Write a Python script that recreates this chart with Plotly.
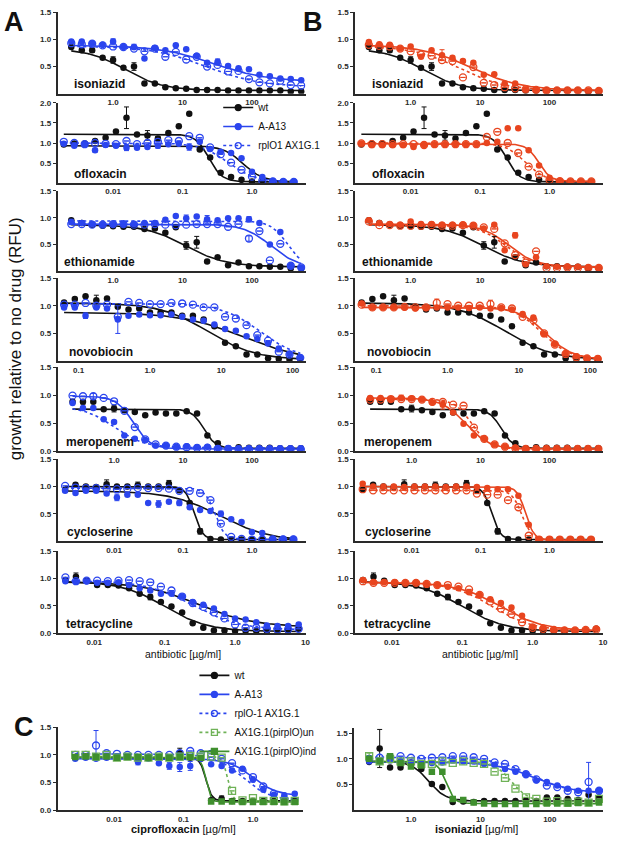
import numpy as np
import plotly.graph_objects as go

# doses in ug/ml (sqrt(2) dilution steps)
dose_high = [0.25, 0.354, 0.5, 0.707, 1, 1.41, 2, 2.83, 4, 5.66, 8, 11.3, 16, 22.6,
             32, 45.3, 64, 90.5, 128, 181, 256, 362, 512]
dose_low = [0.00195, 0.00276, 0.0039, 0.0055, 0.0078, 0.011, 0.0156, 0.0221, 0.03125,
            0.0442, 0.0625, 0.0884, 0.125, 0.177, 0.25, 0.354, 0.5, 0.707, 1, 1.41, 2, 2.83, 4]
dose_nov = [0.0625, 0.0884, 0.125, 0.177, 0.25, 0.354, 0.5, 0.707, 1, 1.41, 2, 2.83, 4,
            5.66, 8, 11.3, 16, 22.6, 32, 45.3, 64, 90.5, 128]
dose_tet = [0.0039, 0.0055, 0.0078, 0.011, 0.0156, 0.0221, 0.03125, 0.0442, 0.0625, 0.0884,
            0.125, 0.177, 0.25, 0.354, 0.5, 0.707, 1, 1.41, 2, 2.83, 4, 5.66, 8]
dose_cip = [0.00276, 0.0039, 0.0055, 0.0078, 0.011, 0.0156, 0.0221, 0.03125, 0.0442, 0.0625,
            0.0884, 0.125, 0.177, 0.25, 0.354, 0.5, 0.707, 1, 1.41, 2, 2.83, 4]

drugs = ["isoniazid", "ofloxacin", "ethionamide", "novobiocin", "meropenem", "cycloserine", "tetracycline"]
drug_doses = [dose_high, dose_low, dose_high, dose_nov, dose_high, dose_low, dose_tet]

# growth relative to no drug, panels A and B (wt is shared)
wt = {
    "isoniazid": [0.86, 0.80, 0.80, 0.66, 0.62, 0.48, 0.50, 0.19, 0.19, 0.12, 0.10, 0.09, 0.07, 0.07, 0.07, 0.06, 0.06, 0.06, 0.06, 0.06, 0.06, 0.04, 0.04],
    "ofloxacin": [0.96, 0.99, 0.99, 1.05, 1.13, 1.29, 1.63, 1.21, 1.19, 1.11, 1.25, 1.42, 1.73, 0.84, 0.64, 0.26, 0.15, 0.08, 0.04, 0.03, 0.03, 0.03, 0.03],
    "ethionamide": [0.95, 0.90, 0.87, 0.85, 0.84, 0.83, 0.83, 0.79, 0.80, 0.72, 0.82, 0.48, 0.54, 0.18, 0.26, 0.11, 0.16, 0.09, 0.09, 0.08, 0.08, 0.05, 0.05],
    "novobiocin": [1.06, 1.12, 1.17, 1.10, 1.13, 0.98, 0.93, 0.95, 0.88, 0.88, 0.88, 0.82, 0.82, 0.75, 0.63, 0.33, 0.27, 0.12, 0.12, 0.05, 0.04, 0.03, 0.04],
    "meropenem": [0.88, 0.88, 0.88, 0.75, 0.76, 0.73, 0.70, 0.64, 0.69, 0.67, 0.67, 0.71, 0.67, 0.28, 0.14, 0.05, 0.07, 0.06, 0.06, 0.06, 0.05, 0.05, 0.05],
    "cycloserine": [0.94, 1.03, 1.00, 0.99, 1.04, 1.00, 1.00, 1.02, 1.00, 1.00, 1.05, 0.93, 0.70, 0.18, 0.04, 0.03, 0.03, 0.03, 0.03, 0.03, 0.03, 0.03, 0.03],
    "tetracycline": [0.97, 1.03, 0.96, 0.88, 0.88, 0.87, 0.82, 0.72, 0.66, 0.57, 0.49, 0.38, 0.18, 0.10, 0.05, 0.05, 0.04, 0.04, 0.04, 0.04, 0.04, 0.05, 0.08],
}
a13 = {
    "isoniazid": [0.96, 0.96, 0.93, 0.90, 0.96, 0.86, 0.86, 0.65, 0.84, 0.80, 0.89, 0.82, 0.70, 0.57, 0.59, 0.51, 0.47, 0.45, 0.35, 0.32, 0.28, 0.27, 0.25],
    "ofloxacin": [0.98, 0.93, 0.97, 0.82, 0.95, 0.93, 0.88, 0.88, 0.90, 0.93, 0.97, 0.98, 0.90, 1.03, 0.85, 0.78, 0.75, 0.62, 0.28, 0.15, 0.05, 0.03, 0.03],
    "ethionamide": [0.92, 0.90, 0.88, 0.87, 0.88, 0.88, 0.88, 0.90, 0.90, 0.96, 1.03, 0.99, 1.02, 0.97, 0.95, 0.99, 0.99, 0.97, 0.90, 0.50, 0.73, 0.10, 0.07],
    "novobiocin": [0.97, 0.97, 0.82, 0.97, 0.95, 0.75, 0.82, 0.84, 0.83, 0.83, 0.84, 0.80, 0.75, 0.73, 0.66, 0.58, 0.55, 0.45, 0.40, 0.32, 0.23, 0.13, 0.07],
    "meropenem": [0.86, 0.77, 0.77, 0.57, 0.52, 0.28, 0.22, 0.20, 0.10, 0.10, 0.08, 0.09, 0.07, 0.08, 0.05, 0.05, 0.05, 0.05, 0.05, 0.05, 0.05, 0.05, 0.05],
    "cycloserine": [0.92, 0.88, 0.92, 0.92, 0.87, 0.80, 0.85, 0.85, 0.70, 0.68, 0.72, 0.70, 0.62, 0.57, 0.55, 0.50, 0.40, 0.35, 0.17, 0.15, 0.05, 0.05, 0.05],
    "tetracycline": [0.95, 0.94, 0.95, 0.92, 0.92, 0.93, 0.88, 0.82, 0.78, 0.72, 0.72, 0.67, 0.57, 0.52, 0.45, 0.35, 0.27, 0.25, 0.20, 0.14, 0.13, 0.13, 0.16],
}
ax1g = {
    "isoniazid": [0.93, 0.91, 0.92, 0.89, 0.87, 0.86, 0.83, 0.78, 0.83, 0.68, 0.77, 0.63, 0.68, 0.50, 0.53, 0.41, 0.42, 0.27, 0.21, 0.19, 0.24, 0.16, 0.15],
    "ofloxacin": [1.03, 1.00, 0.97, 1.00, 0.98, 0.97, 1.05, 0.97, 1.00, 1.03, 1.07, 1.05, 1.17, 1.13, 0.89, 0.72, 0.51, 0.33, 0.16, 0.06, 0.04, 0.03, 0.03],
    "ethionamide": [0.88, 0.88, 0.87, 0.87, 0.88, 0.88, 0.87, 0.87, 0.88, 0.87, 0.86, 0.87, 0.88, 0.88, 0.88, 0.83, 0.88, 0.61, 0.75, 0.20, 0.51, 0.10, 0.07],
    "novobiocin": [1.02, 1.02, 1.05, 1.00, 1.02, 0.80, 1.07, 1.05, 1.03, 1.03, 1.05, 1.04, 1.02, 0.97, 0.97, 0.80, 0.77, 0.65, 0.47, 0.37, 0.17, 0.12, 0.06],
    "meropenem": [0.99, 0.98, 0.98, 0.95, 0.89, 0.72, 0.43, 0.21, 0.12, 0.10, 0.08, 0.07, 0.06, 0.06, 0.04, 0.04, 0.03, 0.03, 0.03, 0.03, 0.03, 0.03, 0.03],
    "cycloserine": [1.01, 0.98, 0.97, 0.97, 0.96, 0.95, 0.96, 0.97, 0.97, 0.97, 0.96, 0.92, 0.92, 0.88, 0.75, 0.32, 0.08, 0.04, 0.03, 0.03, 0.03, 0.03, 0.03],
    "tetracycline": [1.02, 0.95, 0.96, 0.96, 0.95, 0.96, 0.97, 0.95, 0.93, 0.85, 0.78, 0.67, 0.55, 0.48, 0.38, 0.27, 0.16, 0.10, 0.10, 0.08, 0.07, 0.07, 0.08],
}
b_fill = {
    "isoniazid": [0.95, 0.91, 0.90, 0.83, 0.87, 0.68, 0.80, 0.71, 0.66, 0.60, 0.57, 0.35, 0.36, 0.19, 0.19, 0.08, 0.07, 0.06, 0.06, 0.06, 0.06, 0.06, 0.05],
    "ofloxacin": [0.99, 0.95, 0.95, 0.95, 0.95, 0.90, 0.95, 0.97, 0.97, 0.97, 0.97, 0.97, 1.00, 1.03, 1.37, 1.37, 0.82, 0.44, 0.13, 0.05, 0.04, 0.04, 0.04],
    "ethionamide": [0.95, 0.90, 0.88, 0.87, 0.93, 0.88, 0.88, 0.87, 0.87, 0.87, 0.86, 0.80, 0.87, 0.39, 0.67, 0.13, 0.26, 0.09, 0.08, 0.08, 0.08, 0.07, 0.06],
    "novobiocin": [1.04, 0.97, 0.97, 0.97, 0.97, 0.95, 0.96, 0.97, 0.97, 0.97, 0.96, 0.97, 0.95, 0.96, 0.93, 0.85, 0.79, 0.49, 0.31, 0.14, 0.09, 0.05, 0.05],
    "meropenem": [0.95, 0.95, 0.93, 0.95, 0.94, 0.92, 0.87, 0.83, 0.69, 0.49, 0.28, 0.22, 0.12, 0.08, 0.06, 0.04, 0.04, 0.04, 0.04, 0.04, 0.04, 0.04, 0.04],
    "cycloserine": [1.05, 1.00, 1.00, 1.00, 0.99, 1.00, 1.00, 1.00, 0.99, 1.00, 1.00, 0.99, 0.97, 0.95, 0.95, 0.83, 0.30, 0.03, 0.03, 0.03, 0.03, 0.03, 0.03],
    "tetracycline": [0.97, 0.93, 0.93, 0.93, 0.92, 0.92, 0.90, 0.88, 0.85, 0.82, 0.75, 0.70, 0.62, 0.55, 0.47, 0.32, 0.12, 0.10, 0.06, 0.06, 0.05, 0.06, 0.08],
}
b_open = {
    "isoniazid": [0.90, 0.88, 0.87, 0.83, 0.78, 0.72, 0.70, 0.62, 0.60, 0.30, 0.49, 0.20, 0.16, 0.12, 0.10, 0.08, 0.07, 0.06, 0.06, 0.06, 0.06, 0.06, 0.05],
    "ofloxacin": [0.99, 0.97, 0.97, 0.97, 0.97, 0.97, 0.95, 0.97, 0.97, 0.97, 0.97, 0.97, 1.15, 1.28, 1.00, 0.75, 0.41, 0.21, 0.08, 0.05, 0.04, 0.04, 0.04],
    "ethionamide": [0.93, 0.86, 0.86, 0.85, 0.85, 0.85, 0.86, 0.85, 0.85, 0.86, 0.85, 0.82, 0.79, 0.52, 0.30, 0.16, 0.37, 0.06, 0.06, 0.07, 0.06, 0.06, 0.06],
    "novobiocin": [1.02, 0.97, 0.97, 0.97, 0.98, 0.97, 0.97, 1.05, 1.03, 1.00, 1.00, 1.00, 1.03, 0.97, 0.95, 0.80, 0.74, 0.50, 0.30, 0.13, 0.07, 0.05, 0.04],
    "meropenem": [0.92, 0.92, 0.93, 0.93, 0.93, 0.92, 0.88, 0.88, 0.83, 0.81, 0.42, 0.22, 0.12, 0.08, 0.05, 0.04, 0.04, 0.04, 0.04, 0.04, 0.04, 0.04, 0.04],
    "cycloserine": [0.95, 0.93, 0.93, 0.93, 0.93, 0.93, 0.93, 0.93, 0.93, 0.93, 0.93, 0.87, 0.85, 0.85, 0.75, 0.62, 0.10, 0.03, 0.03, 0.03, 0.03, 0.03, 0.03],
    "tetracycline": [0.95, 0.92, 0.92, 0.92, 0.92, 0.92, 0.90, 0.88, 0.88, 0.85, 0.80, 0.70, 0.58, 0.45, 0.35, 0.20, 0.10, 0.08, 0.06, 0.05, 0.05, 0.06, 0.07],
}

# panel C
cip_wt = [0.96, 0.97, 0.97, 0.96, 0.96, 0.97, 0.95, 0.96, 0.96, 0.95, 1.04, 0.95, 0.93, 0.18, 0.21, 0.17, 0.17, 0.17, 0.17, 0.17, 0.17, 0.17]
cip_a13 = [0.93, 0.95, 0.93, 0.95, 0.97, 0.97, 0.87, 0.93, 0.85, 0.80, 0.78, 0.80, 0.93, 0.83, 0.80, 0.72, 0.75, 0.55, 0.37, 0.28, 0.27, 0.30]
cip_ax1g = [1.00, 1.00, 1.17, 1.03, 1.02, 1.00, 1.00, 1.00, 1.00, 1.00, 1.03, 1.07, 1.03, 1.02, 0.93, 0.85, 0.72, 0.60, 0.43, 0.30, 0.20, 0.18]
cip_un = [1.00, 1.00, 0.97, 1.00, 0.95, 0.97, 0.95, 0.95, 0.97, 0.95, 0.97, 0.98, 0.97, 0.97, 0.95, 0.35, 0.18, 0.22, 0.17, 0.17, 0.16, 0.17]
cip_ind = [0.96, 0.97, 0.96, 0.97, 0.95, 0.96, 0.96, 0.95, 0.96, 0.95, 0.96, 0.96, 0.95, 0.16, 0.16, 0.16, 0.15, 0.15, 0.15, 0.15, 0.15, 0.15]
inh_wt = [0.94, 1.20, 0.83, 0.83, 0.93, 0.80, 0.51, 0.45, 0.16, 0.17, 0.16, 0.18, 0.18, 0.18, 0.18, 0.19, 0.18, 0.25, 0.25, 0.22, 0.20, 0.30, 0.25]
inh_a13 = [0.95, 0.95, 0.97, 0.95, 0.93, 0.90, 0.92, 0.93, 0.97, 0.95, 0.95, 0.90, 0.88, 0.80, 0.75, 0.70, 0.58, 0.55, 0.48, 0.42, 0.38, 0.38, 0.38]
inh_ax1g = [1.00, 1.02, 1.03, 1.05, 1.02, 1.00, 1.02, 1.03, 1.05, 1.05, 1.03, 1.00, 0.93, 0.90, 0.80, 0.70, 0.60, 0.48, 0.45, 0.38, 0.35, 0.55, 0.38]
inh_un = [1.05, 0.95, 1.00, 0.95, 0.95, 0.90, 0.90, 0.95, 0.92, 0.95, 0.92, 0.90, 0.75, 0.63, 0.42, 0.25, 0.22, 0.17, 0.18, 0.15, 0.17, 0.15, 0.22]
inh_ind = [1.00, 0.95, 1.05, 0.92, 0.85, 0.87, 0.75, 0.75, 0.22, 0.20, 0.15, 0.13, 0.12, 0.12, 0.12, 0.12, 0.12, 0.13, 0.13, 0.13, 0.14, 0.14, 0.15]

# fitted dose-response curves: (top, bottom, EC50, Hill slope)
fit = {
    ("isoniazid", "wt"): (0.83, 0.06, 1.5, 1.6), ("isoniazid", "a13"): (0.89, 0.22, 28, 1.1),
    ("isoniazid", "ax1g"): (0.88, 0.12, 22, 1.1), ("isoniazid", "b_fill"): (0.90, 0.06, 7.5, 1.2),
    ("isoniazid", "b_open"): (0.88, 0.06, 5, 1.3),
    ("ofloxacin", "wt"): (1.22, 0.03, 0.24, 4.5), ("ofloxacin", "a13"): (0.93, 0.03, 0.75, 3),
    ("ofloxacin", "ax1g"): (1.0, 0.03, 0.45, 2.2), ("ofloxacin", "b_fill"): (0.98, 0.04, 0.7, 5),
    ("ofloxacin", "b_open"): (1.0, 0.04, 0.45, 3),
    ("ethionamide", "wt"): (0.87, 0.08, 11, 1.5), ("ethionamide", "a13"): (0.94, 0.05, 330, 3.5),
    ("ethionamide", "ax1g"): (0.88, 0.06, 190, 2.2), ("ethionamide", "b_fill"): (0.88, 0.08, 26, 2.2),
    ("ethionamide", "b_open"): (0.86, 0.07, 24, 2.2),
    ("novobiocin", "wt"): (1.05, 0.02, 6.5, 1.3), ("novobiocin", "a13"): (0.88, 0.0, 20, 1.0),
    ("novobiocin", "ax1g"): (1.04, 0.03, 35, 1.6), ("novobiocin", "b_fill"): (0.97, 0.03, 24, 2.3),
    ("novobiocin", "b_open"): (1.0, 0.03, 21, 2.2),
    ("meropenem", "wt"): (0.75, 0.05, 20, 5), ("meropenem", "a13"): (0.80, 0.06, 1.0, 2),
    ("meropenem", "ax1g"): (0.98, 0.04, 1.9, 3.5), ("meropenem", "b_fill"): (0.95, 0.04, 6, 2.5),
    ("meropenem", "b_open"): (0.93, 0.04, 7.5, 3.5),
    ("cycloserine", "wt"): (1.0, 0.03, 0.145, 7), ("cycloserine", "a13"): (0.92, 0.0, 0.35, 1.2),
    ("cycloserine", "ax1g"): (0.97, 0.03, 0.29, 6), ("cycloserine", "b_fill"): (1.0, 0.02, 0.45, 7),
    ("cycloserine", "b_open"): (0.93, 0.02, 0.40, 6),
    ("tetracycline", "wt"): (0.95, 0.03, 0.1, 1.4), ("tetracycline", "a13"): (0.94, 0.11, 0.3, 1.1),
    ("tetracycline", "ax1g"): (0.96, 0.06, 0.25, 1.3), ("tetracycline", "b_fill"): (0.93, 0.04, 0.35, 1.4),
    ("tetracycline", "b_open"): (0.93, 0.04, 0.27, 1.5),
    ("cipro", "wt"): (0.95, 0.17, 0.21, 10), ("cipro", "a13"): (0.93, 0.26, 1.0, 2.5),
    ("cipro", "ax1g"): (1.02, 0.18, 0.7, 2.2), ("cipro", "un"): (0.97, 0.17, 0.43, 12),
    ("cipro", "ind"): (0.96, 0.15, 0.21, 12),
    ("inh", "wt"): (0.95, 0.18, 1.8, 3.5), ("inh", "a13"): (0.94, 0.33, 60, 1.5),
    ("inh", "ax1g"): (1.03, 0.33, 55, 1.6), ("inh", "un"): (0.95, 0.17, 28, 3.5),
    ("inh", "ind"): (0.95, 0.13, 3.2, 7),
}

# error bars (SD) on the points that show one: {point index: size}
error_bars = {
    ("isoniazid", "wt"): {2: 0.04, 4: 0.06, 6: 0.07}, ("isoniazid", "a13"): {4: 0.05, 6: 0.05, 8: 0.04, 14: 0.05},
    ("isoniazid", "b_fill"): {7: 0.10},
    ("ofloxacin", "wt"): {6: 0.27, 8: 0.12, 9: 0.05}, ("ofloxacin", "a13"): {3: 0.05, 6: 0.07, 9: 0.06, 12: 0.08},
    ("ethionamide", "wt"): {11: 0.07, 12: 0.11}, ("ethionamide", "a13"): {0: 0.05, 3: 0.04, 11: 0.06, 13: 0.07, 17: 0.05},
    ("ethionamide", "ax1g"): {17: 0.05}, ("ethionamide", "b_fill"): {14: 0.05},
    ("novobiocin", "wt"): {3: 0.09}, ("novobiocin", "a13"): {2: 0.05, 5: 0.25}, ("novobiocin", "b_open"): {7: 0.07, 12: 0.07},
    ("meropenem", "wt"): {1: 0.04, 4: 0.06}, ("meropenem", "ax1g"): {2: 0.05}, ("meropenem", "b_fill"): {3: 0.05, 7: 0.08},
    ("cycloserine", "wt"): {4: 0.08, 7: 0.06, 10: 0.06, 13: 0.05}, ("cycloserine", "a13"): {5: 0.06, 9: 0.06, 11: 0.05, 15: 0.05},
    ("tetracycline", "wt"): {1: 0.07, 8: 0.05}, ("tetracycline", "ax1g"): {12: 0.05},
    ("cipro", "wt"): {10: 0.08, 14: 0.05}, ("cipro", "ax1g"): {2: 0.27}, ("cipro", "a13"): {6: 0.05, 9: 0.06, 10: 0.08, 11: 0.08},
    ("inh", "wt"): {1: 0.37}, ("inh", "ax1g"): {21: 0.38}, ("inh", "un"): {0: 0.06, 2: 0.08},
}

BLACK = "#111111"
BLUE = "#2b45ee"
RED = "#e8451f"
GREEN = "#3f8f2e"
LGREEN = "#6fb257"
AXC = "#2a2a2a"
FONT = "Liberation Sans, Arial, sans-serif"
W, H = 617, 843


def px(x):
    return x / W


def py(y):
    return 1 - y / H


def hill(x, top, bottom, ec50, slope):
    return bottom + (top - bottom) / (1 + (x / ec50) ** slope)


fig = go.Figure()
curve_traces, point_traces = [], []


def add_series(n, key, strain, dose, y, color, symbol, dash, curve_color):
    sfx = "" if n == 1 else str(n)
    xs = np.logspace(np.log10(dose[0]), np.log10(dose[-1]), 200)
    curve_traces.append(go.Scatter(
        x=xs, y=hill(xs, *fit[(key, strain)]), mode="lines", xaxis="x" + sfx, yaxis="y" + sfx,
        line=dict(color=curve_color, width=1.6, dash=dash), showlegend=False, hoverinfo="skip"))
    errs = error_bars.get((key, strain), {})
    open_sym = symbol.endswith("open")
    point_traces.append(go.Scatter(
        x=dose, y=y, mode="markers", xaxis="x" + sfx, yaxis="y" + sfx, showlegend=False,
        marker=dict(symbol=symbol, size=7 if open_sym else 6.5, color=color,
                    line=dict(width=1.3 if open_sym else 0, color=color)),
        error_y=dict(type="data", array=[errs.get(i) for i in range(len(y))], visible=True,
                     color=color, thickness=1, width=2.5)))


# which A-A13 / rplO1 fit uses solid vs dotted line, and curve colour of A-A13
a13_dash = ["solid", "solid", "dot", "solid", "dot", "solid", "solid"]
a13_curve = [BLUE, BLACK, BLUE, BLACK, BLUE, BLACK, BLACK]

for i, drug in enumerate(drugs):
    d = drug_doses[i]
    na, nb = 2 * i + 1, 2 * i + 2
    other = "dot" if a13_dash[i] == "solid" else "solid"
    add_series(na, drug, "wt", d, wt[drug], BLACK, "circle", "solid", BLACK)
    add_series(na, drug, "a13", d, a13[drug], BLUE, "circle", a13_dash[i], a13_curve[i])
    add_series(na, drug, "ax1g", d, ax1g[drug], BLUE, "circle-open", other, BLUE)
    add_series(nb, drug, "wt", d, wt[drug], BLACK, "circle", "solid", BLACK)
    add_series(nb, drug, "b_fill", d, b_fill[drug], RED, "circle", "solid", RED)
    add_series(nb, drug, "b_open", d, b_open[drug], RED, "circle-open", "dot", RED)

add_series(15, "cipro", "wt", dose_cip, cip_wt, BLACK, "circle", "solid", BLACK)
add_series(15, "cipro", "a13", dose_cip, cip_a13, BLUE, "circle", "solid", BLUE)
add_series(15, "cipro", "ax1g", dose_cip, cip_ax1g, BLUE, "circle-open", "dot", BLUE)
add_series(15, "cipro", "un", dose_cip, cip_un, LGREEN, "square-open", "dot", LGREEN)
add_series(15, "cipro", "ind", dose_cip, cip_ind, GREEN, "square", "solid", GREEN)
add_series(16, "inh", "wt", dose_high, inh_wt, BLACK, "circle", "solid", BLACK)
add_series(16, "inh", "a13", dose_high, inh_a13, BLUE, "circle", "solid", BLUE)
add_series(16, "inh", "ax1g", dose_high, inh_ax1g, BLUE, "circle-open", "dot", BLUE)
add_series(16, "inh", "un", dose_high, inh_un, LGREEN, "square-open", "dot", LGREEN)
add_series(16, "inh", "ind", dose_high, inh_ind, GREEN, "square", "solid", GREEN)

for t in curve_traces + point_traces:
    fig.add_trace(t)

# legend entries
legend_a = [("wt", BLACK, "circle", "solid"), ("A-A13", BLUE, "circle", "solid"),
            ("rplO1 AX1G.1", BLUE, "circle-open", "dot")]
legend_c = [("wt", BLACK, "circle", "solid"), ("A-A13", BLUE, "circle", "solid"),
            ("rplO-1 AX1G.1", BLUE, "circle-open", "dot"),
            ("AX1G.1(pirplO)un", LGREEN, "square-open", "dot"),
            ("AX1G.1(pirplO)ind", GREEN, "square", "solid")]
for lg, entries in (("legend", legend_a), ("legend2", legend_c)):
    for name, color, sym, dash in entries:
        fig.add_trace(go.Scatter(
            x=[None], y=[None], mode="lines+markers", name=name, legend=lg,
            marker=dict(symbol=sym, size=6, color=color, line=dict(width=1.3, color=color)),
            line=dict(color=color, width=1.6, dash=dash)))

# axes
row_top = [8.3, 100, 189, 277, 367, 460, 553]
row_bot = [90.7, 181, 270, 361, 452, 543, 636]
row_xrange = [(-0.8, 2.771), (-2.8, 0.771), (-0.8, 2.771), (-1.296, 2.181),
              (-0.82, 2.777), (-2.82, 0.777), (-2.521, 1.0)]
row_xticks = [[1, 10, 100], [0.01, 0.1, 1], [1, 10, 100], [0.1, 1, 10, 100],
              [1, 10, 100], [0.01, 0.1, 1], [0.01, 0.1, 1, 10]]
tick_text = {0.01: "0.01", 0.1: "0.1", 1: "1.0", 10: "10", 100: "100"}
label_dx = [15, 15, 5, 10, 7, 8, 7]

tickfont = dict(family=FONT, size=8, color=AXC, weight="bold")


def set_axes(n, x0, x1, y0, y1, xrange, xticks, yrange, yticks):
    sfx = "" if n == 1 else str(n)
    fig.layout["xaxis" + sfx] = dict(
        domain=[px(x0), px(x1)], type="log", range=list(xrange), anchor="y" + sfx,
        showline=True, linecolor=AXC, linewidth=1.6, showgrid=False, zeroline=False,
        ticks="", ticklabelstandoff=0, tickvals=xticks, ticktext=[tick_text[v] for v in xticks],
        tickfont=tickfont)
    fig.layout["yaxis" + sfx] = dict(
        domain=[py(y1), py(y0)], range=list(yrange), anchor="x" + sfx,
        showline=True, linecolor=AXC, linewidth=1.6, showgrid=False, zeroline=False,
        ticks="outside", ticklen=3, tickwidth=1.2, tickcolor=AXC,
        tickvals=yticks, ticktext=["%.1f" % v for v in yticks], tickfont=tickfont)


def note(text, x, y, size, **kw):
    d = dict(text=text, x=px(x), y=py(y), xref="paper", yref="paper", xanchor="center",
             yanchor="middle", showarrow=False, font=dict(family=FONT, size=size, color=BLACK))
    d.update(kw)
    return d


annotations = []
for i, drug in enumerate(drugs):
    ymax = 2.0 if drug == "ofloxacin" else 1.5
    yt = [0.5, 1.0, 1.5] + ([2.0] if ymax == 2.0 else [])
    if drug in ("meropenem", "tetracycline"):
        yt = [0.0] + yt
    for n, x0 in ((2 * i + 1, 58), (2 * i + 2, 358)):
        set_axes(n, x0, x0 + 250, row_top[i], row_bot[i], row_xrange[i], row_xticks[i], (0, ymax), yt)
        annotations.append(note("<b>%s</b>" % drug, x0 + label_dx[i], row_bot[i] - 9.5, 12,
                                xanchor="left"))

set_axes(15, 58, 305, 731, 815, (-2.814, 0.714), [0.01, 0.1, 1], (0, 1.5), [0.0, 0.5, 1.0, 1.5])
set_axes(16, 357, 608, 731.7, 815, (-0.819, 2.767), [1, 10, 100], (0, 1.6), [0.5, 1.0, 1.5])

annotations += [
    note("<b>A</b>", 14, 18, 27), note("<b>B</b>", 316, 18, 27), note("<b>C</b>", 24, 731, 27),
    note("antibiotic [µg/ml]", 184, 657, 10.5), note("antibiotic [µg/ml]", 484, 657, 10.5),
    note("<b>ciprofloxacin</b> [µg/ml]", 185, 834, 11), note("<b>isoniazid</b> [µg/ml]", 480, 834, 11),
    note("growth relative to no drug (RFU)", 16, 338, 17, textangle=-90),
]

fig.update_layout(
    width=W, height=H, margin=dict(l=0, r=0, t=0, b=0),
    paper_bgcolor="white", plot_bgcolor="white",
    font=dict(family=FONT, color=BLACK),
    annotations=annotations,
    legend=dict(x=px(220), y=py(90), xanchor="left", yanchor="top", bgcolor="rgba(0,0,0,0)",
                font=dict(family=FONT, size=10, color=BLACK), itemwidth=30, tracegroupgap=0),
    legend2=dict(x=px(196), y=py(664), xanchor="left", yanchor="top", bgcolor="rgba(0,0,0,0)",
                 font=dict(family=FONT, size=10, color=BLACK), itemwidth=30, tracegroupgap=0),
)

fig.write_html("out.html", config={"displayModeBar": False},
               post_script="document.body.style.margin='0';")
